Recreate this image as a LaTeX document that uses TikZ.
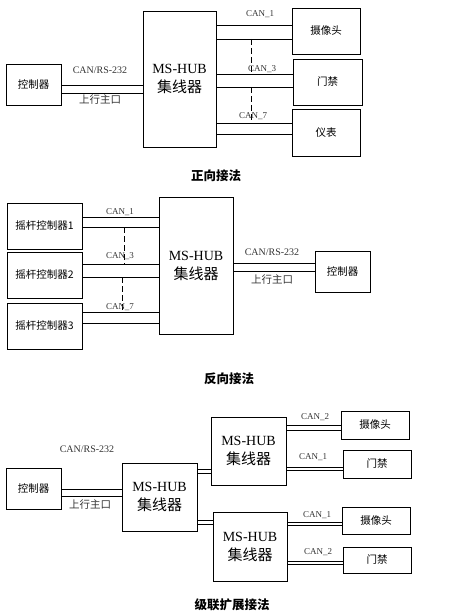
\documentclass[tikz,border=0pt]{standalone}
\usepackage{fontspec}
\setmainfont{Liberation Serif}
\newfontfamily\cjk{Noto Sans CJK SC}
\usetikzlibrary{positioning}
\tikzset{
    % Box styles
    device/.style={
        rectangle,
        draw=black,
        thin,
        inner sep=0pt,
        align=center,
        font=\cjk\fontsize{10.5}{12}\selectfont
    },
    hub/.style={
        rectangle,
        draw=black,
        thin,
        inner sep=0pt,
        align=center,
        font=\fontsize{14}{19}\selectfont
    },
    bus label/.style={
        inner sep=1pt,
        text=black!80,
        font=\fontsize{9}{10}\selectfont
    },
    port label/.style={
        inner sep=1pt,
        text=black!80,
        font=\cjk\fontsize{10.5}{12}\selectfont
    },
    caption/.style={
        font=\cjk\bfseries\fontsize{12.5}{14}\selectfont
    },
    bus/.style={
        draw=black,
        thin
    },
    gap/.style={
        draw=black,
        thin,
        dash pattern=on 6pt off 3pt
    }
}

\begin{document}
\begin{tikzpicture}[x=1pt, y=-1pt]
        \useasboundingbox (0,0) rectangle (474,615);

        % Forward wiring
        \node[device, minimum width=55pt, minimum height=41pt] (ctrlA) at (33.5,84.5) {控制器};
        \node[hub, minimum width=73pt, minimum height=136pt] (hubA) at (179.5,79) {MS-HUB\\{\cjk\fontsize{15}{17}\selectfont 集线器}};
        \node[device, minimum width=68pt, minimum height=46pt] (camA) at (326,31) {摄像头};
        \node[device, minimum width=69pt, minimum height=46pt] (doorA) at (327.5,82) {门禁};
        \node[device, minimum width=68pt, minimum height=47pt] (meterA) at (326,132.5) {仪表};

        \draw[bus] (ctrlA.east |- 0,85) -- (hubA.west |- 0,85);
        \draw[bus] (ctrlA.east |- 0,93) -- (hubA.west |- 0,93);
        \draw[bus] (hubA.east |- 0,25) -- (camA.west |- 0,25);
        \draw[bus] (hubA.east |- 0,39) -- (camA.west |- 0,39);
        \draw[bus] (hubA.east |- 0,74) -- (doorA.west |- 0,74);
        \draw[bus] (hubA.east |- 0,87) -- (doorA.west |- 0,87);
        \draw[bus] (hubA.east |- 0,123) -- (meterA.west |- 0,123);
        \draw[bus] (hubA.east |- 0,134) -- (meterA.west |- 0,134);
        \draw[gap] (251,39) -- (251,74);
        \draw[gap] (251,87) -- (251,123);

        \node[bus label, font=\fontsize{10}{11}\selectfont] (uplinkA) at (100,70) {CAN/RS-232};
        \node[port label] (portA) at (100,100) {上行主口};
        \node[bus label] (canA1) at (260,14) {CAN\_1};
        \node[bus label] (canA3) at (262,69) {CAN\_3};
        \node[bus label] (canA7) at (253,116) {CAN\_7};
        \node[caption] (captionA) at (216,176) {正向接法};

        % Reverse wiring
        \node[device, minimum width=75pt, minimum height=46pt] (joy1) at (44.5,226) {摇杆控制器1};
        \node[device, minimum width=75pt, minimum height=46pt] (joy2) at (44.5,275) {摇杆控制器2};
        \node[device, minimum width=75pt, minimum height=46pt] (joy3) at (44.5,326) {摇杆控制器3};
        \node[hub, minimum width=74pt, minimum height=137pt] (hubB) at (196,265.5) {MS-HUB\\{\cjk\fontsize{15}{17}\selectfont 集线器}};
        \node[device, minimum width=55pt, minimum height=41pt] (ctrlB) at (342.5,271.5) {控制器};

        \draw[bus] (joy1.east |- 0,217) -- (hubB.west |- 0,217);
        \draw[bus] (joy1.east |- 0,227) -- (hubB.west |- 0,227);
        \draw[bus] (joy2.east |- 0,264) -- (hubB.west |- 0,264);
        \draw[bus] (joy2.east |- 0,277) -- (hubB.west |- 0,277);
        \draw[bus] (joy3.east |- 0,312) -- (hubB.west |- 0,312);
        \draw[bus] (joy3.east |- 0,323) -- (hubB.west |- 0,323);
        \draw[bus] (hubB.east |- 0,263) -- (ctrlB.west |- 0,263);
        \draw[bus] (hubB.east |- 0,271) -- (ctrlB.west |- 0,271);
        \draw[gap] (124,227) -- (124,264);
        \draw[gap] (122,277) -- (122,312);

        \node[bus label] (canB1) at (120,212) {CAN\_1};
        \node[bus label] (canB3) at (120,256) {CAN\_3};
        \node[bus label] (canB7) at (120,307) {CAN\_7};
        \node[bus label, font=\fontsize{10}{11}\selectfont] (uplinkB) at (272,252) {CAN/RS-232};
        \node[port label] (portB) at (272,280) {上行主口};
        \node[caption] (captionB) at (229,379) {反向接法};

        % Cascade wiring
        \node[device, minimum width=55pt, minimum height=41pt] (ctrlC) at (33.5,488.5) {控制器};
        \node[hub, minimum width=75pt, minimum height=68pt] (hubC) at (159.5,497) {MS-HUB\\{\cjk\fontsize{15}{17}\selectfont 集线器}};
        \node[hub, minimum width=75pt, minimum height=68pt] (hubUp) at (248.5,451) {MS-HUB\\{\cjk\fontsize{15}{17}\selectfont 集线器}};
        \node[hub, minimum width=74pt, minimum height=69pt] (hubDown) at (250,546.5) {MS-HUB\\{\cjk\fontsize{15}{17}\selectfont 集线器}};
        \node[device, minimum width=68pt, minimum height=28pt] (camUp) at (375,425) {摄像头};
        \node[device, minimum width=68pt, minimum height=28pt] (doorUp) at (377,464) {门禁};
        \node[device, minimum width=68pt, minimum height=27pt] (camDown) at (376,520.5) {摄像头};
        \node[device, minimum width=68pt, minimum height=26pt] (doorDown) at (377,560) {门禁};

        \draw[bus] (ctrlC.east |- 0,489) -- (hubC.west |- 0,489);
        \draw[bus] (ctrlC.east |- 0,496) -- (hubC.west |- 0,496);
        \draw[bus] (hubC.east |- 0,469) -- (hubUp.west |- 0,469);
        \draw[bus] (hubC.east |- 0,473) -- (hubUp.west |- 0,473);
        \draw[bus] (hubC.east |- 0,520) -- (hubDown.west |- 0,520);
        \draw[bus] (hubC.east |- 0,524) -- (hubDown.west |- 0,524);
        \draw[bus] (hubUp.east |- 0,425) -- (camUp.west |- 0,425);
        \draw[bus] (hubUp.east |- 0,430) -- (camUp.west |- 0,430);
        \draw[bus] (hubUp.east |- 0,467) -- (doorUp.west |- 0,467);
        \draw[bus] (hubUp.east |- 0,470) -- (doorUp.west |- 0,470);
        \draw[bus] (hubDown.east |- 0,522) -- (camDown.west |- 0,522);
        \draw[bus] (hubDown.east |- 0,525) -- (camDown.west |- 0,525);
        \draw[bus] (hubDown.east |- 0,561) -- (doorDown.west |- 0,561);
        \draw[bus] (hubDown.east |- 0,564) -- (doorDown.west |- 0,564);

        \node[bus label, font=\fontsize{10}{11}\selectfont] (uplinkC) at (87,449) {CAN/RS-232};
        \node[port label] (portC) at (90,505) {上行主口};
        \node[bus label] (canUp2) at (315,417) {CAN\_2};
        \node[bus label] (canUp1) at (313,457) {CAN\_1};
        \node[bus label] (canDown1) at (317,515) {CAN\_1};
        \node[bus label] (canDown2) at (318,552) {CAN\_2};
        \node[caption] (captionC) at (232,605) {级联扩展接法};
\end{tikzpicture}
\end{document}
